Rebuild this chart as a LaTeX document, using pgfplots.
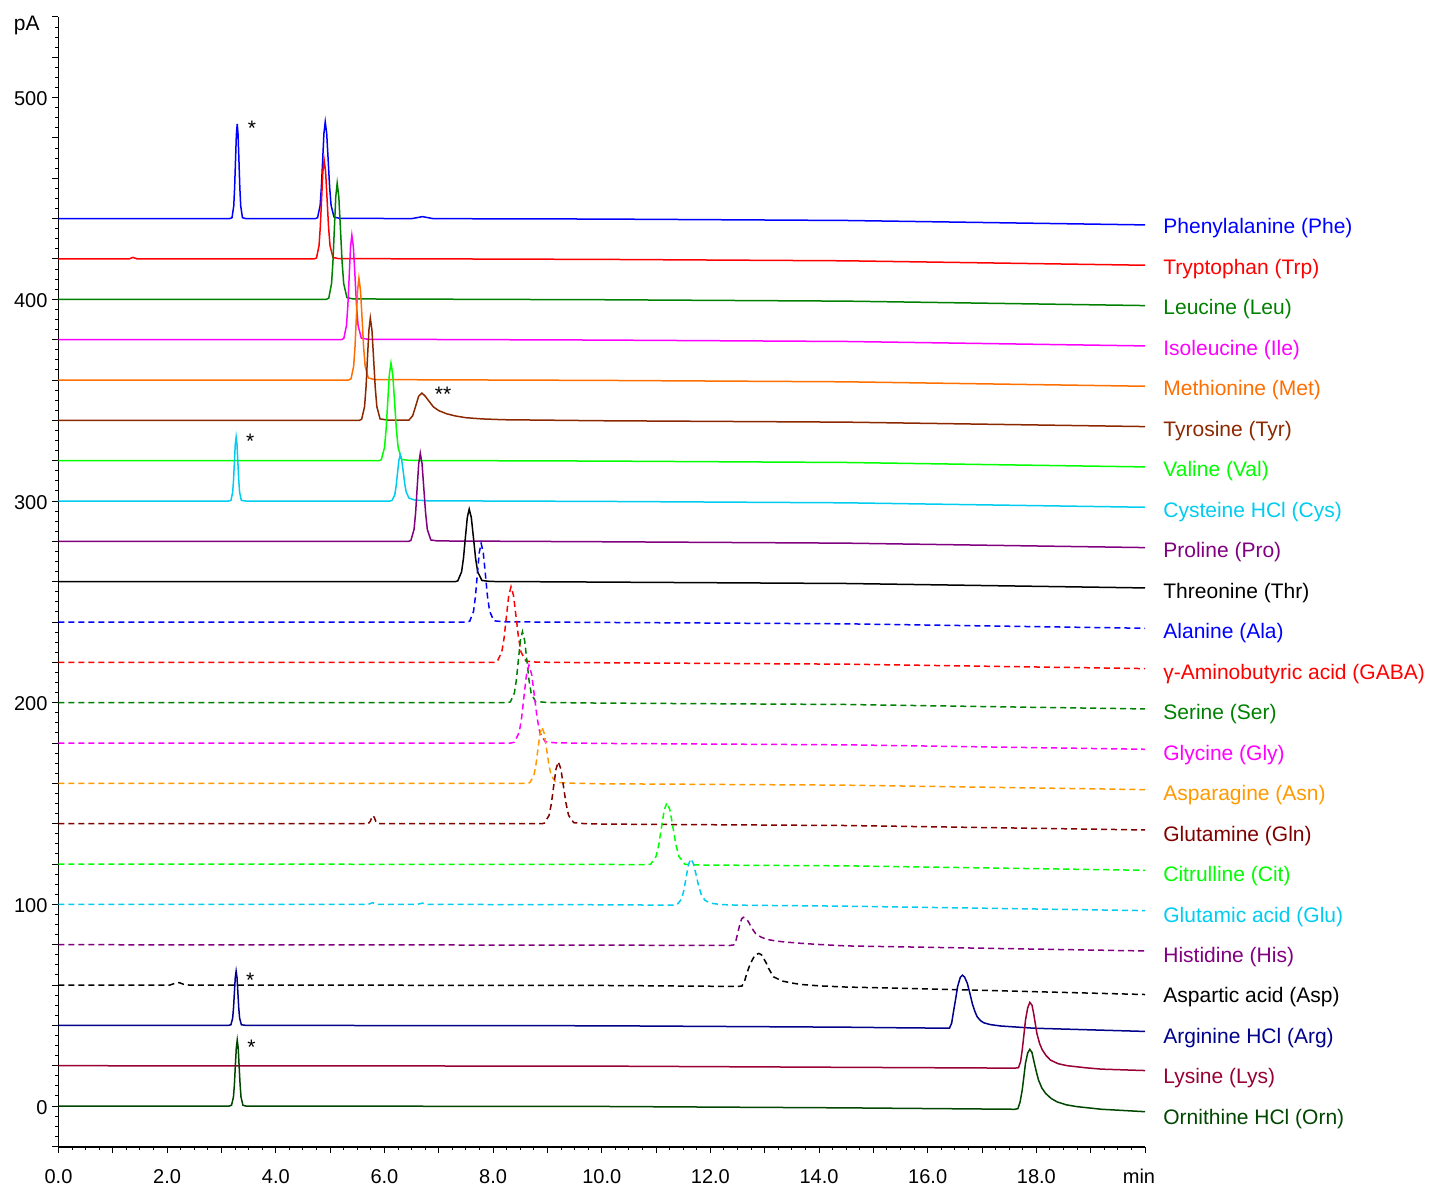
\documentclass[border=0pt]{standalone}
\usepackage{fontspec}
\setmainfont{Liberation Sans}
\usepackage{pgfplots}
\pgfplotsset{compat=1.18}
\definecolor{cphe}{RGB}{0,0,255}
\definecolor{ctrp}{RGB}{255,0,0}
\definecolor{cleu}{RGB}{0,128,0}
\definecolor{cile}{RGB}{255,0,255}
\definecolor{cmet}{RGB}{255,110,0}
\definecolor{ctyr}{RGB}{140,40,0}
\definecolor{cval}{RGB}{0,255,0}
\definecolor{ccys}{RGB}{0,204,240}
\definecolor{cpro}{RGB}{128,0,128}
\definecolor{cthr}{RGB}{0,0,0}
\definecolor{casn}{RGB}{255,153,0}
\definecolor{cgln}{RGB}{128,0,0}
\definecolor{carg}{RGB}{0,0,139}
\definecolor{clys}{RGB}{153,0,51}
\definecolor{corn}{RGB}{0,70,0}
\begin{document}
\begin{tikzpicture}[font=\fontsize{10.5}{12}\selectfont]
\begin{axis}[at={(0,0)}, anchor=south west, scale only axis,
  width=543.25pt, height=565pt,
  xmin=0, xmax=20, ymin=-20.3, ymax=540,
  axis lines=left, axis line style={-, line width=0.6pt},
  clip=false,
  xtick={0,1,...,20},
  xticklabels={0.0,,2.0,,4.0,,6.0,,8.0,,10.0,,12.0,,14.0,,16.0,,18.0,,{\hspace*{-6pt}min}},
  xticklabel style={yshift=-4.5pt},
  yticklabel style={xshift=1pt, yshift=-0.7pt},
  minor x tick num=3,
  ytick={-20,0,20,...,540},
  yticklabels={,0,,,,,100,,,,,200,,,,,300,,,,,400,,,,,500,,},
  minor y tick num=3,
  tick align=outside, major tick length=3pt, minor tick length=1.5pt,
  tick style={black, line width=0.5pt},
  tick label style={font=\fontsize{10}{12}\selectfont},
  /pgf/number format/assume math mode=true,
  every axis plot/.append style={line width=0.75pt},
]
% Phe
\addplot[cphe] coordinates {(0,440) (3.15,440) (3.194,440.5) (3.226,446.3) (3.242,455.3) (3.258,468.5) (3.274,481.5) (3.29,487.0) (3.306,481.5) (3.322,468.5) (3.338,455.3) (3.354,446.3) (3.386,440.5) (3.45,440) (4.73,440) (4.769,440.5) (4.816,446.5) (4.839,455.6) (4.863,469.1) (4.886,482.3) (4.91,488.0) (4.937,482.3) (4.964,469.1) (4.991,455.6) (5.018,446.5) (5.072,440.8) (5.17,440.2) (6.5,440) (6.7,441) (6.9,440) (10,439.8) (14.5,439.1) (20,436.9)};
% Trp
\addplot[ctrp] coordinates {(0,420) (1.3,420) (1.37,420.8) (1.45,420) (4.70,420) (4.749,420.5) (4.796,426.6) (4.819,435.9) (4.843,449.7) (4.866,463.2) (4.89,469.0) (4.917,463.2) (4.944,449.7) (4.971,435.9) (4.998,426.6) (5.052,420.8) (5.15,420.2) (10,419.8) (14.5,419.1) (20,416.9)};
% Leu
\addplot[cleu] coordinates {(0,400) (4.93,400) (4.975,400.6) (5.026,407.8) (5.052,418.7) (5.078,435.0) (5.104,450.8) (5.13,457.6) (5.16,450.8) (5.19,435.0) (5.22,418.7) (5.25,407.8) (5.309,400.9) (5.42,400.2) (10,399.8) (14.5,399.1) (20,396.9)};
% Ile
\addplot[cile] coordinates {(0,380) (5.21,380) (5.252,380.6) (5.301,387.0) (5.326,396.8) (5.351,411.4) (5.375,425.7) (5.40,431.8) (5.429,425.7) (5.458,411.4) (5.486,396.8) (5.515,387.0) (5.573,380.8) (5.69,380.2) (10,379.8) (14.5,379.1) (20,376.9)};
% Met
\addplot[cmet] coordinates {(0,360) (5.34,360) (5.385,360.6) (5.433,366.8) (5.458,376.4) (5.482,390.7) (5.506,404.5) (5.53,410.5) (5.559,404.5) (5.588,390.7) (5.616,376.4) (5.645,366.8) (5.703,361.0) (5.82,360.2) (10,359.8) (14.5,359.1) (20,356.9)};
% Tyr
\addplot[ctyr] coordinates {(0,340) (5.54,340) (5.581,340.6) (5.634,346.8) (5.661,356.5) (5.687,370.8) (5.714,384.7) (5.74,390.7) (5.77,384.7) (5.80,370.8) (5.83,356.5) (5.86,346.8) (5.919,340.7) (6.07,340.1) (6.45,340.1) (6.52,342.3) (6.58,347.5) (6.63,352.0) (6.69,353.5) (6.75,352.0) (6.82,349.5) (6.9,346.7) (7.0,344.8) (7.15,343.2) (7.3,342.2) (7.5,341.3) (7.8,340.7) (8.2,340.3) (10,339.8) (14.5,339.1) (20,336.9)};
% Val
\addplot[cval] coordinates {(0,320) (5.90,320) (5.942,320.5) (6.001,326.5) (6.031,335.7) (6.061,349.4) (6.09,362.7) (6.12,368.4) (6.153,362.7) (6.186,349.4) (6.219,335.7) (6.252,326.5) (6.318,320.6) (6.47,320.1) (10,319.8) (14.5,319.1) (20,316.9)};
% Cys
\addplot[ccys] coordinates {(0,300) (3.13,300) (3.174,300.3) (3.206,304.3) (3.222,310.3) (3.238,319.2) (3.254,328.0) (3.27,331.7) (3.286,328.0) (3.302,319.2) (3.318,310.3) (3.334,304.3) (3.366,300.3) (3.45,300) (6.1,300) (6.14,300.3) (6.19,303.1) (6.215,307.4) (6.24,313.8) (6.265,320.1) (6.29,322.8) (6.318,320.3) (6.346,314.5) (6.374,308.5) (6.40,304.5) (6.45,301.5) (6.55,300.5) (6.8,300.1) (10,299.8) (14.5,299.1) (20,296.9)};
% Pro
\addplot[cpro] coordinates {(0,280) (6.45,280) (6.487,280.5) (6.545,285.9) (6.574,294.2) (6.602,306.5) (6.631,318.5) (6.66,323.7) (6.692,318.5) (6.724,306.5) (6.757,294.2) (6.789,285.9) (6.853,280.7) (6.97,280.2) (10,279.8) (14.5,279.1) (20,276.9)};
% Thr
\addplot[cthr] coordinates {(0,260) (7.3,260) (7.35,260.4) (7.42,264.9) (7.455,271.7) (7.49,281.9) (7.525,291.8) (7.56,296.0) (7.599,291.8) (7.638,281.9) (7.677,271.7) (7.716,264.9) (7.794,260.6) (7.95,260.1) (10,259.8) (14.5,259.1) (20,256.9)};
% Ala
\addplot[cphe, dash pattern=on 3pt off 2pt] coordinates {(0,240) (7.52,240) (7.57,240.4) (7.64,245.3) (7.675,252.7) (7.71,263.7) (7.745,274.4) (7.78,279.0) (7.819,274.4) (7.858,263.7) (7.897,252.7) (7.936,245.3) (8.014,240.6) (8.2,240.1) (10,239.8) (14.5,239.1) (20,236.9)};
% GABA
\addplot[ctrp, dash pattern=on 3pt off 2pt] coordinates {(0,220) (8.02,220) (8.075,220.4) (8.16,225.1) (8.203,232.2) (8.245,242.8) (8.288,253.1) (8.33,257.5) (8.376,253.1) (8.422,242.8) (8.468,232.2) (8.514,225.1) (8.606,220.6) (8.8,220.1) (10,219.8) (14.5,219.1) (20,216.9)};
% Ser
\addplot[cleu, dash pattern=on 3pt off 2pt] coordinates {(0,200) (8.27,200) (8.318,200.4) (8.392,204.8) (8.429,211.4) (8.466,221.4) (8.503,231.0) (8.54,235.2) (8.58,231.0) (8.62,221.4) (8.66,211.4) (8.70,204.8) (8.78,200.6) (9.0,200.1) (10,199.8) (14.5,199.1) (20,196.9)};
% Gly
\addplot[cile, dash pattern=on 3pt off 2pt] coordinates {(0,180) (8.33,180) (8.39,180.4) (8.48,185.2) (8.525,192.5) (8.57,203.4) (8.615,214.0) (8.66,218.6) (8.71,214.0) (8.76,203.4) (8.81,192.5) (8.86,185.2) (8.96,180.6) (9.15,180.1) (10,179.8) (14.5,179.1) (20,176.9)};
% Asn
\addplot[casn, dash pattern=on 3pt off 2pt] coordinates {(0,160) (8.62,160) (8.675,160.3) (8.75,163.8) (8.788,169.1) (8.825,176.9) (8.863,184.6) (8.90,187.9) (8.943,184.6) (8.985,176.9) (9.028,169.1) (9.07,163.8) (9.155,160.5) (9.4,160.1) (10,159.8) (14.5,159.1) (20,156.9)};
% Gln
\addplot[cgln, dash pattern=on 3pt off 2pt] coordinates {(0,140) (5.70,140) (5.74,141.2) (5.765,143.0) (5.79,144.0) (5.815,143.0) (5.84,141.2) (5.88,140) (8.9,140) (8.945,140.3) (9.03,144.1) (9.073,150.0) (9.115,158.6) (9.158,167.1) (9.20,170.7) (9.248,167.1) (9.295,158.6) (9.343,150.0) (9.39,144.1) (9.485,140.5) (9.7,140.0) (10,139.8) (14.5,139.1) (20,136.9)};
% Cit
\addplot[cval, dash pattern=on 3pt off 2pt] coordinates {(0,120) (10,119.8) (10.8,119.7) (10.9,119.9) (11.0,123.8) (11.05,129.6) (11.1,138.3) (11.15,146.8) (11.2,150.4) (11.255,146.8) (11.31,138.3) (11.365,129.6) (11.42,123.8) (11.53,119.9) (11.8,119.5) (14.5,119.1) (20,116.9)};
% Glu
\addplot[ccys, dash pattern=on 3pt off 2pt] coordinates {(0,100) (5.7,100) (5.78,100.8) (5.86,100) (6.6,100) (6.7,100.6) (6.8,100) (10,99.8) (11.3,99.6) (11.385,99.8) (11.47,102.7) (11.513,107.1) (11.555,113.6) (11.598,119.9) (11.64,122.6) (11.685,120.3) (11.73,115.5) (11.78,109.5) (11.83,105.0) (11.9,102.0) (12.0,100.6) (12.2,99.9) (12.5,99.6) (14.5,99.1) (20,96.9)};
% His
\addplot[cpro, dash pattern=on 3pt off 2pt] coordinates {(0,80) (10,79.8) (12.35,79.6) (12.43,79.9) (12.47,82.0) (12.51,86.5) (12.55,91.0) (12.58,93.0) (12.61,93.6) (12.65,93.0) (12.70,91.4) (12.76,88.3) (12.83,85.6) (12.93,83.8) (13.04,82.6) (13.2,81.9) (13.35,81.4) (13.66,80.7) (14.0,80.1) (14.5,79.4) (20,76.9)};
% Asp
\addplot[cthr, dash pattern=on 3pt off 2pt] coordinates {(0,60) (2.05,60) (2.15,60.9) (2.22,61.2) (2.3,60.4) (2.4,60) (10,59.8) (12.5,59.3) (12.58,59.5) (12.63,62.0) (12.67,65.8) (12.72,69.5) (12.77,72.4) (12.82,74.8) (12.89,75.7) (12.94,75.0) (12.98,73.2) (13.03,70.8) (13.07,68.3) (13.16,64.1) (13.32,62.0) (13.5,61.0) (13.66,60.3) (14.0,59.6) (14.5,59.0) (15.5,58.4) (20,55.3)};
% Arg
\addplot[carg] coordinates {(0,40) (3.13,40) (3.174,40.3) (3.206,43.6) (3.222,48.7) (3.238,56.3) (3.254,63.7) (3.27,66.9) (3.286,63.7) (3.302,56.3) (3.318,48.7) (3.334,43.6) (3.366,40.3) (3.45,40) (10,39.8) (14.5,39.1) (15.5,38.8) (16.4,38.6) (16.44,41.0) (16.48,47.6) (16.52,54.0) (16.55,59.2) (16.6,63.8) (16.64,64.9) (16.68,63.9) (16.73,60.8) (16.78,55.5) (16.82,50.9) (16.87,46.8) (16.91,44.3) (16.97,42.4) (17.03,41.3) (17.15,40.4) (17.34,39.7) (17.95,38.6) (20,37.0)};
% Lys
\addplot[clys] coordinates {(0,20) (10,19.8) (14.5,19.2) (17.6,18.8) (17.67,19.0) (17.71,22.0) (17.74,27.8) (17.77,35.0) (17.80,42.6) (17.84,48.6) (17.88,51.4) (17.92,50.0) (17.95,46.0) (17.98,41.0) (18.01,36.0) (18.06,31.0) (18.11,27.8) (18.18,25.0) (18.26,22.8) (18.4,21.0) (18.57,20.0) (18.9,19.0) (19.2,18.3) (20,17.6)};
% Orn
\addplot[corn] coordinates {(0,0) (3.14,0) (3.185,0.4) (3.22,4.4) (3.238,10.6) (3.255,19.8) (3.273,28.8) (3.29,32.7) (3.308,28.8) (3.325,19.8) (3.343,10.6) (3.36,4.4) (3.395,0.4) (3.45,0) (10,-0.2) (14.5,-0.9) (17.6,-1.6) (17.66,-1.3) (17.70,2.0) (17.74,7.9) (17.77,14.5) (17.80,21.2) (17.84,26.3) (17.88,28.1) (17.92,26.5) (17.95,22.8) (18.0,17.0) (18.04,12.9) (18.1,9.0) (18.17,6.3) (18.27,3.8) (18.38,2.1) (18.55,0.6) (18.75,-0.3) (19.2,-1.6) (20,-2.8)};

% labels
\begin{scope}[every node/.style={anchor=west, inner sep=0pt, xshift=9pt}]
\node[text=cphe] at (axis cs:20,435.1) {Phenylalanine (Phe)};
\node[text=ctrp] at (axis cs:20,415.0) {Tryptophan (Trp)};
\node[text=cleu] at (axis cs:20,395.0) {Leucine (Leu)};
\node[text=cile] at (axis cs:20,374.9) {Isoleucine (Ile)};
\node[text=cmet] at (axis cs:20,354.8) {Methionine (Met)};
\node[text=ctyr] at (axis cs:20,334.8) {Tyrosine (Tyr)};
\node[text=cval] at (axis cs:20,314.7) {Valine (Val)};
\node[text=ccys] at (axis cs:20,294.6) {Cysteine HCl (Cys)};
\node[text=cpro] at (axis cs:20,274.6) {Proline (Pro)};
\node[text=cthr] at (axis cs:20,254.5) {Threonine (Thr)};
\node[text=cphe] at (axis cs:20,234.4) {Alanine (Ala)};
\node[text=ctrp] at (axis cs:20,214.4) {γ-Aminobutyric acid (GABA)};
\node[text=cleu] at (axis cs:20,194.3) {Serine (Ser)};
\node[text=cile] at (axis cs:20,174.2) {Glycine (Gly)};
\node[text=casn] at (axis cs:20,154.1) {Asparagine (Asn)};
\node[text=cgln] at (axis cs:20,134.1) {Glutamine (Gln)};
\node[text=cval] at (axis cs:20,114.0) {Citrulline (Cit)};
\node[text=ccys] at (axis cs:20,93.9) {Glutamic acid (Glu)};
\node[text=cpro] at (axis cs:20,73.9) {Histidine (His)};
\node[text=cthr] at (axis cs:20,53.8) {Aspartic acid (Asp)};
\node[text=carg] at (axis cs:20,33.7) {Arginine HCl (Arg)};
\node[text=clys] at (axis cs:20,13.7) {Lysine (Lys)};
\node[text=corn] at (axis cs:20,-6.4) {Ornithine HCl (Orn)};
\end{scope}
% asterisks
\begin{scope}[every node/.style={inner sep=0pt, yshift=-2pt}]
\node at (axis cs:3.56,486.9) {*};
\node at (axis cs:7.08,355) {**};
\node at (axis cs:3.53,331.7) {*};
\node at (axis cs:3.53,64.5) {*};
\node at (axis cs:3.55,31.2) {*};
\end{scope}
\node[anchor=east, inner sep=0pt, xshift=-9.25pt] at (axis cs:0,535.6) {pA};
\end{axis}
\pgfresetboundingbox
\path[use as bounding box] (-29.25pt,-20pt) rectangle (686.25pt,573.5pt);
\end{tikzpicture}
\end{document}
